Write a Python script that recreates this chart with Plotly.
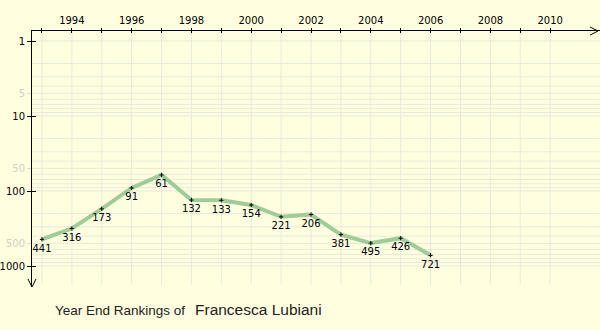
import plotly.graph_objects as go

years = [1993, 1994, 1995, 1996, 1997, 1998, 1999, 2000, 2001, 2002, 2003, 2004, 2005, 2006]
ranks = [441, 316, 173, 91, 61, 132, 133, 154, 221, 206, 381, 495, 426, 721]

x_tick_years = list(range(1993, 2011))
x_label_years = [str(y) if y % 2 == 0 else "" for y in x_tick_years]
y_major = [1, 10, 100, 1000]
y_minor = [5, 50, 500]
player = "Francesca Lubiani"

BG = "#ffffdf"
GRID = "#e9e9dc"
LINE = "#9fcc99"
FONT = "DejaVu Sans"

fig = go.Figure()
fig.add_trace(go.Scatter(
    x=years, y=ranks, mode="lines+markers",
    line=dict(color=LINE, width=4),
    marker=dict(symbol="cross-thin", size=3, color="black", line=dict(color="black", width=1)),
    cliponaxis=False, hoverinfo="skip", showlegend=False,
))
fig.add_trace(go.Scatter(
    x=years, y=ranks, mode="markers+text",
    marker=dict(size=6, opacity=0),
    text=[str(r) for r in ranks], textposition="bottom center",
    textfont=dict(family=FONT, size=10, color="black"),
    cliponaxis=False, hoverinfo="skip", showlegend=False,
))

shapes = []
grid_vals = []
for d in [1, 10, 100]:
    for m in range(1, 10):
        grid_vals.append(m * d)
grid_vals.append(1000)
for v in grid_vals:
    shapes.append(dict(type="line", xref="paper", x0=0, x1=1, yref="y", y0=v, y1=v,
                       line=dict(color=GRID, width=1), layer="below"))
for yr in x_tick_years:
    shapes.append(dict(type="line", xref="x", x0=yr, x1=yr, yref="paper", y0=0.008, y1=1,
                       line=dict(color=GRID, width=1), layer="below"))
shapes.append(dict(type="path", xref="paper", yref="paper",
                   path="M 0.9825 1.0156 L 0.9965 1 L 0.9825 0.984",
                   line=dict(color="black", width=1)))
shapes.append(dict(type="path", xref="paper", yref="paper",
                   path="M -0.007 0.0313 L 0 0 L 0.007 0.0313",
                   line=dict(color="black", width=1)))

fig.update_layout(
    width=600, height=330,
    margin=dict(l=30, r=0, t=31, b=43),
    paper_bgcolor=BG, plot_bgcolor=BG,
    shapes=shapes,
    xaxis=dict(range=[1992 + 2/3, 2011 + 2/3], side="top", showgrid=False, zeroline=False,
               showline=True, linecolor="black", linewidth=1,
               tickvals=x_tick_years, ticktext=x_label_years,
               ticks="outside", ticklen=2, tickcolor="black",
               tickfont=dict(family=FONT, size=10, color="black")),
    xaxis2=dict(overlaying="x", matches="x", side="top", showgrid=False, zeroline=False,
                tickvals=x_tick_years, showticklabels=False,
                ticks="inside", ticklen=2, tickcolor="black"),
    yaxis=dict(type="log", range=[3.28, -0.1333], autorange=False, showgrid=False, zeroline=False,
               showline=True, linecolor="black", linewidth=1,
               tickvals=y_major, ticktext=[str(v) for v in y_major],
               ticks="outside", ticklen=4, tickcolor="black",
               tickfont=dict(family=FONT, size=10, color="black")),
    yaxis2=dict(type="log", overlaying="y", matches="y", side="left", showgrid=False, zeroline=False,
                tickvals=y_minor, ticktext=[str(v) for v in y_minor],
                ticks="outside", ticklen=4, tickcolor="#dcdcd0",
                tickfont=dict(family=FONT, size=10, color="#d0d0c4")),
    yaxis3=dict(type="log", overlaying="y", matches="y", side="left", showgrid=False, zeroline=False,
                tickvals=y_major, showticklabels=False,
                ticks="inside", ticklen=4, tickcolor="black"),
    annotations=[
        dict(xref="paper", yref="paper", x=(51.5 - 30) / 570, y=-0.09, xanchor="left", yanchor="middle",
             showarrow=False, text="Year End Rankings of",
             font=dict(family="Liberation Sans", size=13.5, color="#222222")),
        dict(xref="paper", yref="paper", x=(191.5 - 30) / 570, y=-0.086, xanchor="left", yanchor="middle",
             showarrow=False, text=player,
             font=dict(family="Liberation Sans", size=15.5, color="#222222")),
    ],
)
fig.add_trace(go.Scatter(x=[years[0]], y=[ranks[0]], xaxis="x2", yaxis="y2", mode="markers",
                         marker=dict(opacity=0), hoverinfo="skip", showlegend=False))
fig.add_trace(go.Scatter(x=[years[0]], y=[ranks[0]], xaxis="x2", yaxis="y3", mode="markers",
                         marker=dict(opacity=0), hoverinfo="skip", showlegend=False))

fig.write_html("out.html")
